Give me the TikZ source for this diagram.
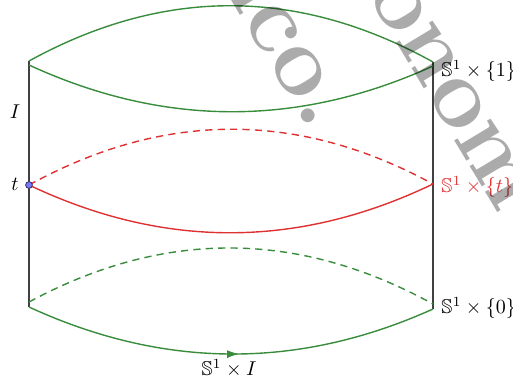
\documentclass[tikz,border=0pt]{standalone}
\usepackage{amssymb}
\usepackage{fontspec}
\usetikzlibrary{arrows.meta,decorations.markings}
\definecolor{cgreen}{RGB}{56,140,60}
\definecolor{cred}{RGB}{222,50,50}
\definecolor{cpt}{RGB}{120,120,250}
\definecolor{cptd}{RGB}{50,50,110}
\tikzset{
  vline/.style={draw=black!75, line width=0.65pt},
  gline/.style={draw=cgreen, line width=0.7pt},
  rline/.style={draw=cred, line width=0.7pt},
  dashline/.style={dash pattern=on 3.6pt off 2.6pt},
  midarrow/.style={postaction={decorate}, decoration={markings,
     mark=at position 0.52 with {\arrow{Latex[length=6pt,width=4pt]}}}},
  ptnode/.style={circle, fill=cpt, draw=cptd, line width=0.4pt, inner sep=0pt, minimum size=3.4pt},
  lab/.style={inner sep=0pt},
  wm/.style={inner sep=0pt, text=black, opacity=0.33, font=\fontsize{48}{58}\selectfont\bfseries},
}
\begin{document}
\begin{tikzpicture}[x=0.5pt,y=-0.5pt]
\useasboundingbox (0,0) rectangle (513,385);
% corner coordinates
\coordinate (TL) at (29,61);
\coordinate (TLb) at (29,65);
\coordinate (TR) at (433,62);
\coordinate (TRb) at (433,66);
\coordinate (ML) at (29,185);
\coordinate (MR) at (433,184);
\coordinate (BLd) at (29,302);
\coordinate (BL) at (29,307);
\coordinate (BRd) at (433,304);
\coordinate (BR) at (433,309);
% vertical sides
\draw[vline] (TL) -- (BL);
\draw[vline] (TR) -- (BR);
% top circle
\draw[gline] (TL) .. controls (163.7,-13) and (298.3,-12.7) .. (TR);
\draw[gline] (TLb) .. controls (163.7,127) and (298.3,127.3) .. (TRb);
% middle circle
\draw[rline, dashline] (ML) .. controls (163.7,111) and (298.3,110.7) .. (MR);
\draw[rline] (ML) .. controls (163.7,249) and (298.3,248.7) .. (MR);
% bottom circle
\draw[gline, dashline] (BLd) .. controls (163.7,229.3) and (298.3,230) .. (BRd);
\draw[gline, midarrow] (BL) .. controls (163.7,369) and (298.3,369.7) .. (BR);
% point t
\node[ptnode] (pt) at (ML) {};
% labels
\node[lab] (lI) at (15,112) {$I$};
\node[lab] (lt) at (15,184) {$t$};
\node[lab, anchor=west] (l1) at (441,71) {$\mathbb{S}^1\times\{1\}$};
\node[lab, anchor=west, text=cred] (lmid) at (441,187) {$\mathbb{S}^1\times\{t\}$};
\node[lab, anchor=west] (l0) at (441,308) {$\mathbb{S}^1\times\{0\}$};
\node[lab] (lS) at (229,368) {$\mathbb{S}^1\times I$};
% watermark
\node[wm, rotate=-59, anchor=base west] (wm1) at (210.4,-33.1) {lico.};
\node[wm, rotate=-59, anchor=base west] (wm2) at (366.1,-6.8) {onom};
\end{tikzpicture}
\end{document}
